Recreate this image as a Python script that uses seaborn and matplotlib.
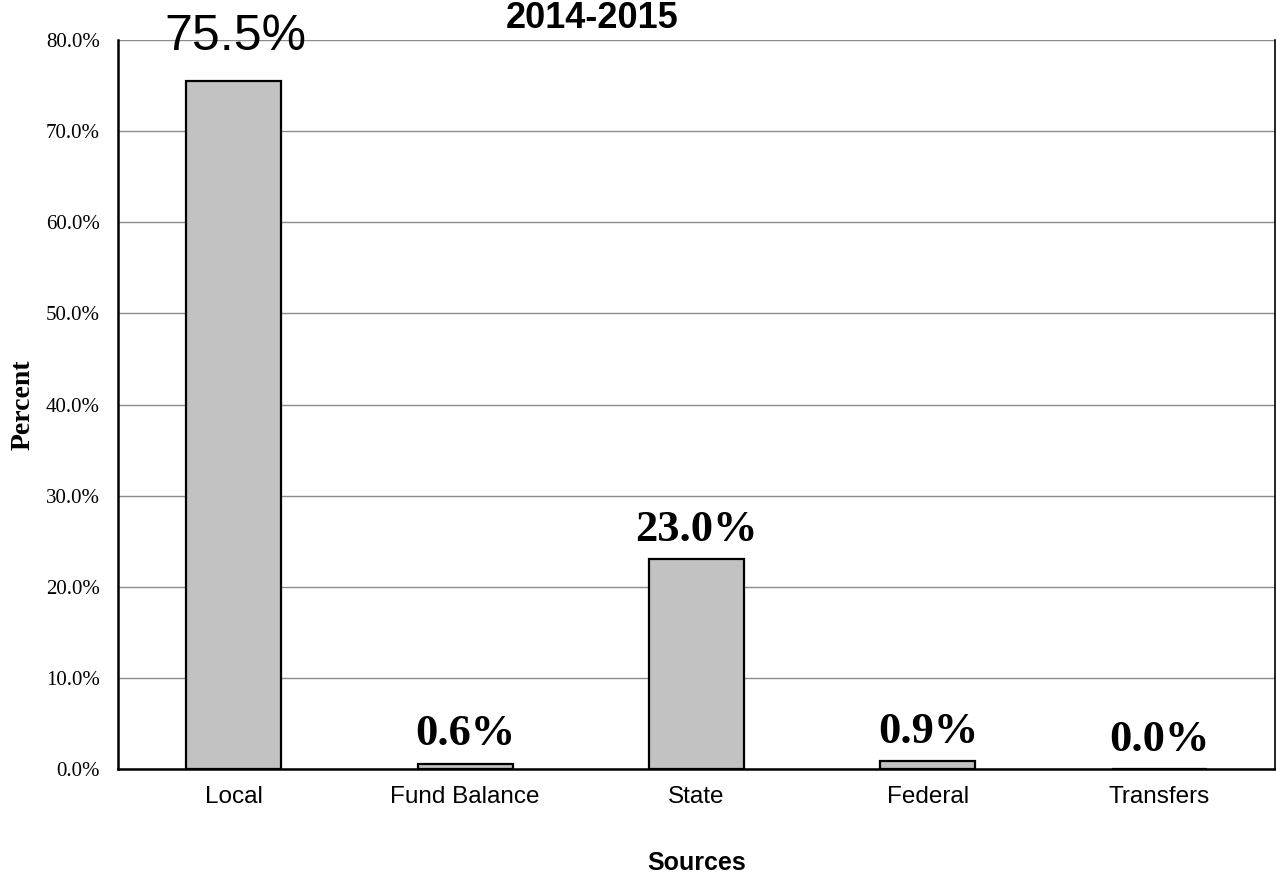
import matplotlib
matplotlib.use("Agg")
import matplotlib.pyplot as plt
import seaborn as sns

categories = ["Local", "Fund Balance", "State", "Federal", "Transfers"]
values = [75.5, 0.6, 23.0, 0.9, 0.0]
yticks = [0, 10, 20, 30, 40, 50, 60, 70, 80]
title = "2014-2015"

sns.set_theme(style="white")
plt.rcParams['font.family'] = ['Liberation Sans', 'DejaVu Sans']
plt.rcParams['text.color'] = 'black'
plt.rcParams['axes.labelcolor'] = 'black'
plt.rcParams['xtick.color'] = 'black'
plt.rcParams['ytick.color'] = 'black'

fig = plt.figure(figsize=(12.76, 8.75), dpi=100)
ax = fig.add_axes([118 / 1276, 106 / 875, 1157 / 1276, 729 / 875])

sns.barplot(x=categories, y=values, width=0.41, color="#c2c2c2",
            saturation=1, edgecolor="black", linewidth=1.6, ax=ax, zorder=3)

ax.set_xlim(-0.5, len(categories) - 0.5)
ax.set_ylim(0, 80)
ax.set_yticks(yticks)
ax.set_yticklabels([f"{v:.1f}%" for v in yticks], fontfamily="Liberation Serif", fontsize=15)
ax.tick_params(axis="y", length=4, width=1, pad=9)
ax.tick_params(axis="x", length=0, pad=12, labelsize=17.5)

ax.set_axisbelow(True)
ax.yaxis.grid(True, color="#8c8c8c", linewidth=1)

for side in ["left", "bottom"]:
    ax.spines[side].set_color("black")
    ax.spines[side].set_linewidth(1.8)
ax.spines["top"].set_visible(False)
ax.spines["right"].set_color("black")
ax.spines["right"].set_linewidth(1.2)

# value labels
for i, v in enumerate(values):
    if i == 0:
        ax.annotate(f"{v:.1f}%", (i, v), xytext=(1, 22), textcoords="offset points",
                    ha="center", va="baseline", fontsize=36,
                    fontfamily=["Liberation Sans Narrow", "Liberation Sans"],
                    annotation_clip=False)
    else:
        ax.annotate(f"{v:.1f}%", (i, v), xytext=(0, 13), textcoords="offset points",
                    ha="center", va="baseline", fontsize=32, fontweight="bold",
                    fontfamily="Liberation Serif")

ax.set_xlabel("Sources", fontsize=18, fontweight="bold", va="baseline")
ax.xaxis.set_label_coords(0.5, -0.1385)
ax.set_ylabel("Percent", fontsize=20, fontweight="bold", fontfamily="Liberation Serif",
              va="center")
ax.yaxis.set_label_coords(-0.082, 0.5)

fig.text(592 / 1276, (875 - 28) / 875, title, ha="center", va="baseline",
         fontsize=26, fontweight="bold")

fig.savefig("out.png", dpi=100)
